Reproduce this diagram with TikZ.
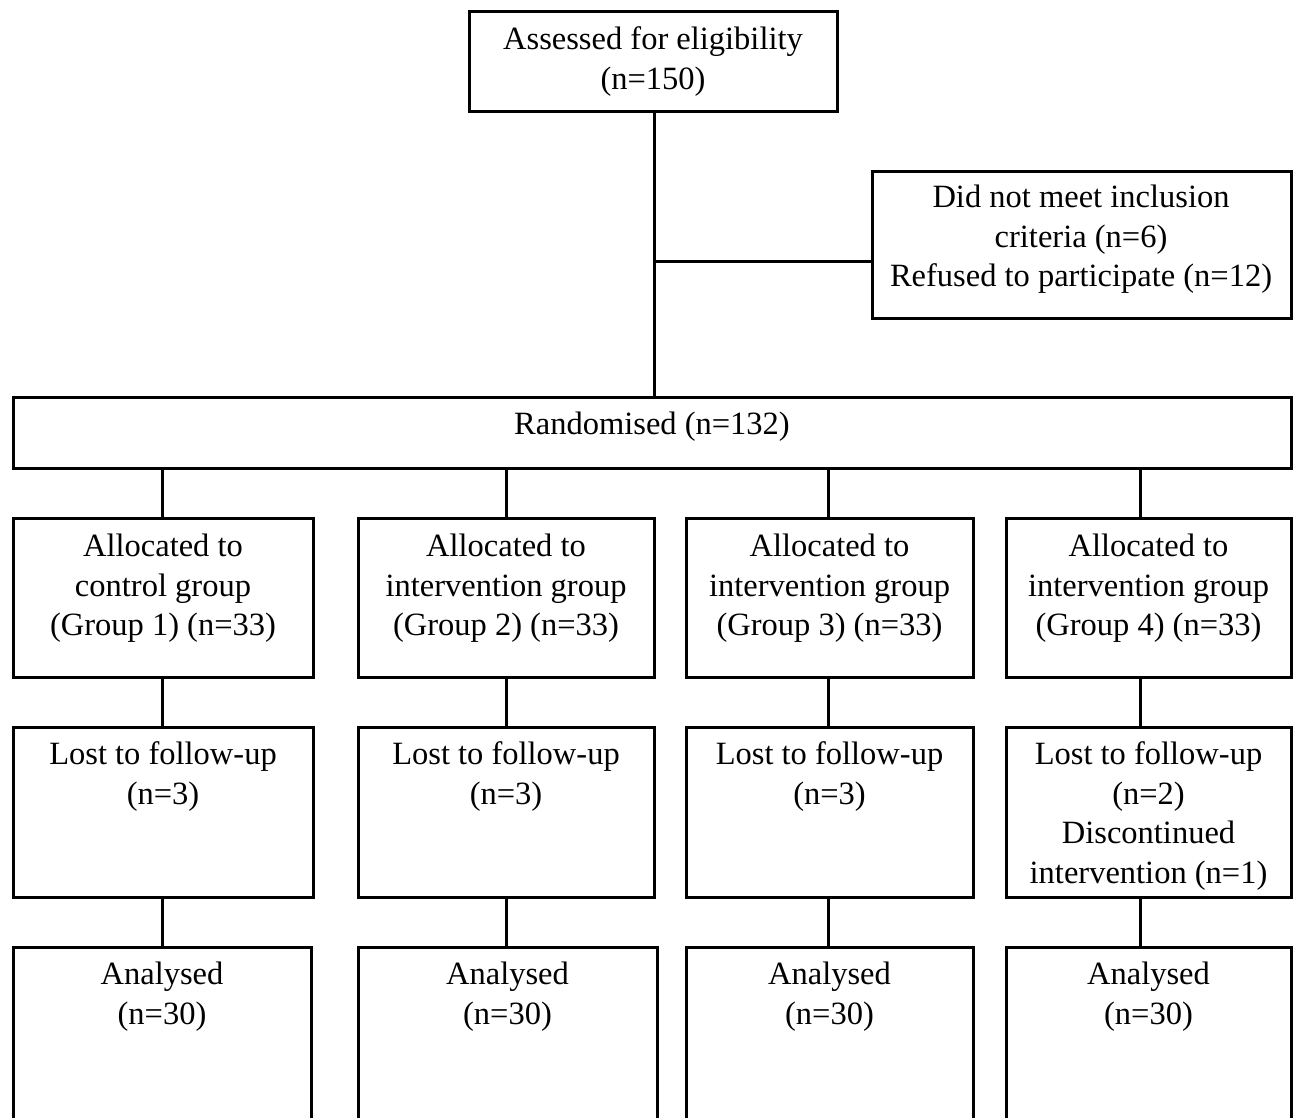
\documentclass[tikz,border=0pt]{standalone}
\usepackage{fontspec}
\setmainfont{Liberation Serif}
\begin{document}
\begin{tikzpicture}[x=1pt,y=-1pt,
  box/.style={draw,line width=3pt,rectangle,inner sep=0pt},
  txt/.style={font=\fontsize{32.5}{39.5}\selectfont,align=center,inner sep=0pt,anchor=north},
  conn/.style={line width=3pt}]
\clip (0,0) rectangle (1293,1117);
\fill[white] (0,0) rectangle (1293,1117);
% boxes (corners in px)
\newcommand{\mybox}[5]{\node[box,minimum width={#4-#2},minimum height={#5-#3}] (#1) at ({(#2+#4)/2},{(#3+#5)/2}) {};}
\mybox{top}{469}{11}{837}{111}
\mybox{excl}{872}{171}{1291}{318}
\mybox{rand}{13}{397}{1291}{468}
\mybox{al1}{13}{518}{313}{677}
\mybox{al2}{358}{518}{654}{677}
\mybox{al3}{686}{518}{973}{677}
\mybox{al4}{1006}{518}{1291}{677}
\mybox{lo1}{13}{727}{313}{897}
\mybox{lo2}{358}{727}{654}{897}
\mybox{lo3}{686}{727}{973}{897}
\mybox{lo4}{1006}{727}{1291}{897}
\mybox{an1}{13}{947}{311}{1140}
\mybox{an2}{358}{947}{657}{1140}
\mybox{an3}{686}{947}{973}{1140}
\mybox{an4}{1006}{947}{1291}{1140}
% texts
\node[txt] (ttop) at (653,22) {\strut Assessed for eligibility\\(n=150)};
\node[txt] (texcl) at (1081,180) {\strut Did not meet inclusion\\criteria (n=6)\\Refused to participate (n=12)};
\node[txt] (trand) at (652,407) {\strut Randomised (n=132)};
\node[txt] (tal1) at (163,529) {\strut Allocated to\\control group\\(Group 1) (n=33)};
\node[txt] (tal2) at (506,529) {\strut Allocated to\\intervention group\\(Group 2) (n=33)};
\node[txt] (tal3) at (829.5,529) {\strut Allocated to\\intervention group\\(Group 3) (n=33)};
\node[txt] (tal4) at (1148.5,529) {\strut Allocated to\\intervention group\\(Group 4) (n=33)};
\node[txt] (tlo1) at (163,737) {\strut Lost to follow-up\\(n=3)};
\node[txt] (tlo2) at (506,737) {\strut Lost to follow-up\\(n=3)};
\node[txt] (tlo3) at (829.5,737) {\strut Lost to follow-up\\(n=3)};
\node[txt] (tlo4) at (1148.5,737) {\strut Lost to follow-up\\(n=2)\\Discontinued\\intervention (n=1)};
\node[txt] (tan1) at (162,957) {\strut Analysed\\(n=30)};
\node[txt] (tan2) at (507.5,957) {\strut Analysed\\(n=30)};
\node[txt] (tan3) at (829.5,957) {\strut Analysed\\(n=30)};
\node[txt] (tan4) at (1148.5,957) {\strut Analysed\\(n=30)};
% connector x positions
\coordinate (cm) at (654,261);
\coordinate (c1) at (162,0);
\coordinate (c2) at (506,0);
\coordinate (c3) at (828,0);
\coordinate (c4) at (1140,0);
\draw[conn] (top.south -| cm) -- (rand.north -| cm);
\draw[conn] (cm) -- (excl.west |- cm);
\foreach \i in {1,2,3,4}{
  \draw[conn] (rand.south -| c\i) -- (al\i.north -| c\i);
  \draw[conn] (al\i.south -| c\i) -- (lo\i.north -| c\i);
  \draw[conn] (lo\i.south -| c\i) -- (an\i.north -| c\i);
}
\end{tikzpicture}
\end{document}
